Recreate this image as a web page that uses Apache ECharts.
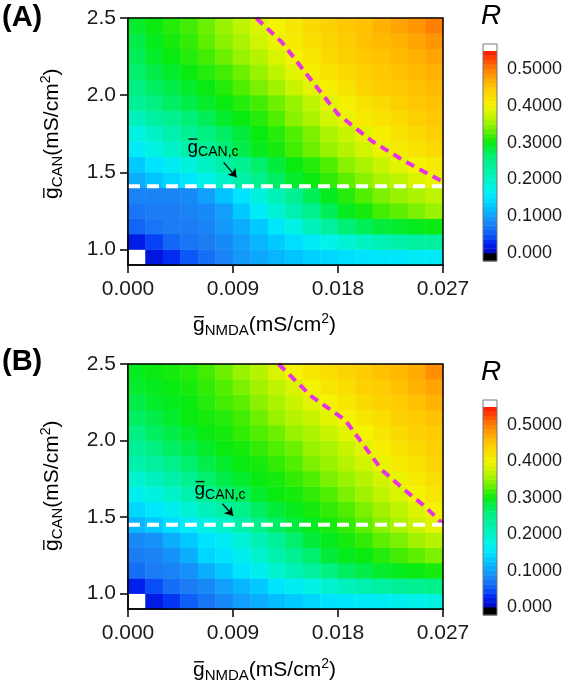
<!DOCTYPE html>
<html>
<head>
<meta charset="utf-8">
<style>
  html, body { margin: 0; padding: 0; background: #fff; }
  #chart { width: 570px; height: 687px; }
</style>
<script src="https://cdn.jsdelivr.net/npm/echarts@6/dist/echarts.min.js"></script>
</head>
<body>
<div id="chart"></div>
<script>
// cell centres: g_NMDA columns (mS/cm2) and g_CAN rows (mS/cm2, bottom row first)
const gNmda = [0.00075, 0.00225, 0.00375, 0.00525, 0.00675, 0.00825, 0.00975, 0.01125, 0.01275,
               0.01425, 0.01575, 0.01725, 0.01875, 0.02025, 0.02175, 0.02325, 0.02475, 0.02625];
const gCan = [0.95, 1.05, 1.15, 1.25, 1.35, 1.45, 1.55, 1.65,
              1.75, 1.85, 1.95, 2.05, 2.15, 2.25, 2.35, 2.45];

// R in each cell, one row per gCan value (bottom first); null = no value
const rA = [
  [null, 0.015, 0.03, 0.05, 0.065, 0.08, 0.095, 0.105, 0.115, 0.125, 0.135, 0.14, 0.145, 0.15, 0.155, 0.155, 0.16, 0.16],
  [0.02, 0.04, 0.06, 0.07, 0.075, 0.085, 0.10, 0.115, 0.13, 0.145, 0.16, 0.175, 0.19, 0.205, 0.215, 0.225, 0.23, 0.235],
  [0.06, 0.07, 0.075, 0.075, 0.08, 0.095, 0.11, 0.13, 0.155, 0.18, 0.21, 0.235, 0.26, 0.275, 0.285, 0.29, 0.295, 0.30],
  [0.07, 0.075, 0.075, 0.08, 0.085, 0.10, 0.13, 0.16, 0.19, 0.22, 0.25, 0.275, 0.295, 0.305, 0.32, 0.33, 0.34, 0.35],
  [0.08, 0.08, 0.08, 0.085, 0.10, 0.125, 0.15, 0.185, 0.215, 0.245, 0.275, 0.295, 0.31, 0.325, 0.34, 0.35, 0.36, 0.37],
  [0.11, 0.125, 0.14, 0.155, 0.175, 0.20, 0.225, 0.25, 0.27, 0.29, 0.30, 0.315, 0.33, 0.345, 0.36, 0.37, 0.385, 0.395],
  [0.13, 0.15, 0.165, 0.185, 0.205, 0.225, 0.245, 0.265, 0.285, 0.30, 0.31, 0.325, 0.345, 0.36, 0.375, 0.39, 0.40, 0.41],
  [0.16, 0.18, 0.20, 0.22, 0.24, 0.26, 0.28, 0.295, 0.305, 0.32, 0.335, 0.35, 0.365, 0.38, 0.395, 0.41, 0.42, 0.43],
  [0.18, 0.20, 0.22, 0.24, 0.255, 0.27, 0.285, 0.30, 0.31, 0.325, 0.34, 0.36, 0.375, 0.39, 0.405, 0.42, 0.43, 0.44],
  [0.21, 0.23, 0.245, 0.26, 0.275, 0.29, 0.30, 0.31, 0.325, 0.345, 0.36, 0.38, 0.395, 0.41, 0.42, 0.43, 0.44, 0.45],
  [0.24, 0.255, 0.27, 0.28, 0.29, 0.30, 0.31, 0.32, 0.335, 0.35, 0.37, 0.39, 0.405, 0.42, 0.43, 0.44, 0.45, 0.455],
  [0.255, 0.27, 0.28, 0.29, 0.30, 0.31, 0.325, 0.34, 0.355, 0.375, 0.39, 0.405, 0.42, 0.435, 0.445, 0.45, 0.455, 0.46],
  [0.265, 0.28, 0.29, 0.30, 0.31, 0.32, 0.335, 0.35, 0.37, 0.39, 0.405, 0.42, 0.43, 0.44, 0.45, 0.455, 0.46, 0.465],
  [0.275, 0.29, 0.30, 0.31, 0.32, 0.335, 0.35, 0.365, 0.385, 0.40, 0.415, 0.43, 0.44, 0.45, 0.455, 0.46, 0.465, 0.475],
  [0.28, 0.295, 0.305, 0.315, 0.33, 0.345, 0.36, 0.38, 0.395, 0.41, 0.425, 0.435, 0.445, 0.455, 0.46, 0.465, 0.475, 0.485],
  [0.29, 0.30, 0.31, 0.32, 0.335, 0.35, 0.37, 0.385, 0.40, 0.415, 0.43, 0.44, 0.45, 0.455, 0.465, 0.475, 0.485, 0.50]
];
const rB = [
  [null, 0.02, 0.035, 0.055, 0.07, 0.085, 0.10, 0.11, 0.12, 0.13, 0.14, 0.15, 0.155, 0.16, 0.165, 0.17, 0.175, 0.18],
  [0.025, 0.045, 0.065, 0.075, 0.085, 0.10, 0.115, 0.13, 0.15, 0.165, 0.18, 0.195, 0.21, 0.22, 0.23, 0.24, 0.245, 0.25],
  [0.065, 0.075, 0.08, 0.09, 0.11, 0.13, 0.15, 0.17, 0.195, 0.215, 0.235, 0.255, 0.27, 0.28, 0.29, 0.295, 0.30, 0.305],
  [0.075, 0.08, 0.09, 0.11, 0.14, 0.15, 0.17, 0.195, 0.22, 0.245, 0.265, 0.285, 0.295, 0.30, 0.31, 0.32, 0.33, 0.34],
  [0.085, 0.09, 0.11, 0.13, 0.15, 0.165, 0.19, 0.215, 0.24, 0.265, 0.285, 0.295, 0.305, 0.315, 0.33, 0.34, 0.355, 0.365],
  [0.115, 0.13, 0.145, 0.16, 0.18, 0.20, 0.225, 0.25, 0.27, 0.285, 0.295, 0.305, 0.315, 0.33, 0.345, 0.36, 0.375, 0.39],
  [0.14, 0.155, 0.17, 0.19, 0.21, 0.23, 0.25, 0.27, 0.285, 0.295, 0.305, 0.315, 0.325, 0.34, 0.355, 0.37, 0.385, 0.40],
  [0.17, 0.185, 0.20, 0.22, 0.24, 0.26, 0.275, 0.29, 0.30, 0.305, 0.315, 0.325, 0.34, 0.355, 0.37, 0.385, 0.40, 0.415],
  [0.195, 0.21, 0.225, 0.245, 0.265, 0.28, 0.29, 0.30, 0.305, 0.315, 0.325, 0.34, 0.35, 0.365, 0.38, 0.395, 0.41, 0.425],
  [0.22, 0.235, 0.25, 0.265, 0.28, 0.29, 0.30, 0.305, 0.315, 0.325, 0.34, 0.35, 0.365, 0.38, 0.395, 0.41, 0.42, 0.435],
  [0.24, 0.255, 0.27, 0.28, 0.29, 0.30, 0.305, 0.315, 0.325, 0.335, 0.35, 0.36, 0.375, 0.39, 0.405, 0.42, 0.43, 0.44],
  [0.255, 0.27, 0.28, 0.29, 0.30, 0.305, 0.315, 0.325, 0.335, 0.35, 0.36, 0.375, 0.39, 0.40, 0.415, 0.43, 0.44, 0.445],
  [0.27, 0.28, 0.29, 0.30, 0.305, 0.31, 0.32, 0.335, 0.35, 0.365, 0.375, 0.39, 0.40, 0.415, 0.425, 0.44, 0.445, 0.455],
  [0.28, 0.29, 0.295, 0.30, 0.31, 0.32, 0.33, 0.345, 0.36, 0.375, 0.39, 0.40, 0.415, 0.43, 0.44, 0.445, 0.455, 0.465],
  [0.29, 0.295, 0.30, 0.305, 0.315, 0.325, 0.34, 0.355, 0.37, 0.385, 0.40, 0.415, 0.425, 0.44, 0.445, 0.455, 0.465, 0.475],
  [0.295, 0.30, 0.305, 0.31, 0.32, 0.335, 0.35, 0.365, 0.385, 0.40, 0.415, 0.425, 0.435, 0.445, 0.455, 0.46, 0.47, 0.49]
];

// magenta dashed boundary [g_NMDA, g_CAN]
const boundA = [[0.0110, 2.5], [0.0132, 2.342], [0.01575, 2.093], [0.0180, 1.877],
                [0.0209, 1.703], [0.0237, 1.573], [0.0266, 1.455], [0.027, 1.44]];
const boundB = [[0.0129, 2.5], [0.01575, 2.287], [0.0186, 2.135], [0.0203, 1.96],
                [0.02175, 1.808], [0.0237, 1.678], [0.02546, 1.569], [0.027, 1.455]];

// critical g_CAN (white dashed line)
const gCanCritA = 1.41;
const gCanCritB = 1.45;

// annotation: label anchor and arrow [from, to]
const noteA = [0.0051, 1.662];
const noteB = [0.0057, 1.678];
const arrowA = [[0.0082, 1.565], [0.0093, 1.468]];
const arrowB = [[0.0081, 1.587], [0.0090, 1.509]];

const yTicks = [1.0, 1.5, 2.0, 2.5];
const rTicks = [0, 0.1, 0.2, 0.3, 0.4, 0.5];

const FONT = "'Liberation Sans', Arial, sans-serif";
const INK = '#1a1a1a';

// colour scale of R
const stops = [
  [0.000, '#0008c0'], [0.025, '#0020f0'], [0.050, '#0a58f8'], [0.075, '#1c7cf4'],
  [0.100, '#10a0fc'], [0.125, '#00c4ff'], [0.150, '#00e4ff'], [0.175, '#00f2ea'],
  [0.200, '#00f2c8'], [0.225, '#00f0a8'], [0.250, '#00f08c'], [0.275, '#00ee58'],
  [0.300, '#08ea10'], [0.325, '#50ee00'], [0.350, '#98f200'], [0.375, '#c8f400'],
  [0.400, '#f4f400'], [0.450, '#ffc800'], [0.500, '#ff8000'], [0.550, '#ff1400']
];
function hexRgb(h) {
  return [parseInt(h.slice(1, 3), 16), parseInt(h.slice(3, 5), 16), parseInt(h.slice(5, 7), 16)];
}
function colorAt(v) {
  if (v <= stops[0][0]) return stops[0][1];
  for (let i = 1; i < stops.length; i++) {
    if (v <= stops[i][0]) {
      const t = (v - stops[i - 1][0]) / (stops[i][0] - stops[i - 1][0]);
      const a = hexRgb(stops[i - 1][1]), b = hexRgb(stops[i][1]);
      const c = a.map((x, k) => Math.round(x + (b[k] - x) * t));
      return 'rgb(' + c.join(',') + ')';
    }
  }
  return stops[stops.length - 1][1];
}

// colour bar bands: black below 0, 44 levels up to 0.55, white cap
const bands = [[-0.022, 0]];
for (let i = 0; i < 44; i++) bands.push([i * 0.0125, (i + 1) * 0.0125]);
bands.push([0.55, 0.568]);
const scaleColors = [];
for (let i = 0; i <= 110; i++) scaleColors.push(colorAt(i * 0.005));

function cells(rows) {
  const out = [];
  rows.forEach((row, j) => row.forEach((v, i) => { if (v !== null) out.push([i, j, v]); }));
  return out;
}

function renderBand(params, api) {
  const lo = api.value(0), hi = api.value(1);
  const p0 = api.coord([0, hi]);
  const p1 = api.coord([1, lo]);
  let fill = colorAt((lo + hi) / 2);
  if (hi <= 0) fill = '#000';
  if (lo >= 0.55) fill = '#fff';
  return {
    type: 'rect',
    shape: { x: p0[0], y: p0[1], width: p1[0] - p0[0], height: p1[1] - p0[1] + 0.4 },
    style: { fill: fill }
  };
}

const tickLabel = { fontFamily: FONT, fontSize: 21, color: INK };

function plotAxes(gridIndex) {
  const x = {
    gridIndex, type: 'value', min: 0, max: 0.027, interval: 0.009,
    axisLine: { show: true, onZero: false, lineStyle: { color: '#000', width: 1.5 } },
    axisTick: { show: true, length: 8, lineStyle: { color: '#000', width: 1.5 } },
    axisLabel: Object.assign({ margin: 14, formatter: v => v.toFixed(3) }, tickLabel),
    splitLine: { show: false }
  };
  const y = {
    gridIndex, type: 'value', min: 0.9, max: 2.5,
    axisLine: { show: true, onZero: false, lineStyle: { color: '#000', width: 1.5 } },
    axisTick: { show: true, length: 8, customValues: yTicks, lineStyle: { color: '#000', width: 1.5 } },
    axisLabel: Object.assign({ margin: 12, customValues: yTicks, formatter: v => v.toFixed(1) }, tickLabel),
    splitLine: { show: false }
  };
  const xc = { gridIndex, type: 'category', data: gNmda.map(String), show: false };
  const yc = { gridIndex, type: 'category', data: gCan.map(String), show: false };
  return { x: [x, xc], y: [y, yc] };
}

function barAxes(gridIndex) {
  return {
    x: { gridIndex, type: 'value', min: 0, max: 1, show: false },
    y: {
      gridIndex, type: 'value', min: -0.022, max: 0.568, position: 'right',
      axisLine: { show: false },
      axisTick: { show: true, length: 4, customValues: rTicks, lineStyle: { color: '#666', width: 1 } },
      axisLabel: {
        margin: 10, customValues: rTicks, fontFamily: FONT, fontSize: 18, color: INK,
        formatter: v => (v === 0 ? '0.000' : v.toFixed(4))
      },
      splitLine: { show: false }
    }
  };
}

const pa = plotAxes(0), pb = plotAxes(1), ca = barAxes(2), cb = barAxes(3);

const frame = { show: true, z: 10, backgroundColor: 'transparent', borderColor: '#000', borderWidth: 1.5 };
const barFrame = { show: true, z: 10, backgroundColor: 'transparent', borderColor: '#777', borderWidth: 1 };

function boundSeries(xi, data) {
  return {
    type: 'line', xAxisIndex: xi, yAxisIndex: xi, data, symbol: 'none', silent: true, z: 5,
    lineStyle: { color: '#e632e6', width: 4, type: [9, 6] }
  };
}
function critSeries(xi, g, arrow) {
  return {
    type: 'line', xAxisIndex: xi, yAxisIndex: xi, data: [[0, g], [0.027, g]],
    symbol: 'none', silent: true, z: 5,
    lineStyle: { color: '#fff', width: 4, type: [12, 7] },
    markLine: {
      silent: true, symbol: ['none', 'arrow'], symbolSize: 8, animation: false,
      lineStyle: { color: '#000', width: 1.3, type: 'solid' },
      itemStyle: { color: '#000' },
      label: { show: false },
      emphasis: { disabled: true },
      data: [[{ coord: arrow[0] }, { coord: arrow[1] }]]
    }
  };
}

const chart = echarts.init(document.getElementById('chart'));

const option = {
  animation: false,
  backgroundColor: '#fff',
  grid: [
    Object.assign({ left: 128, top: 18, width: 315, height: 247 }, frame),
    Object.assign({ left: 128, top: 364, width: 315, height: 245 }, frame),
    Object.assign({ left: 483, top: 44, width: 14, height: 217 }, barFrame),
    Object.assign({ left: 483, top: 400, width: 14, height: 215 }, barFrame)
  ],
  xAxis: [pa.x[0], pa.x[1], pb.x[0], pb.x[1], ca.x, cb.x],
  yAxis: [pa.y[0], pa.y[1], pb.y[0], pb.y[1], ca.y, cb.y],
  visualMap: {
    type: 'continuous', show: false, seriesIndex: [0, 1], dimension: 2,
    min: 0, max: 0.55, inRange: { color: scaleColors }
  },
  series: [
    { type: 'heatmap', xAxisIndex: 1, yAxisIndex: 1, data: cells(rA), silent: true, emphasis: { disabled: true } },
    { type: 'heatmap', xAxisIndex: 3, yAxisIndex: 3, data: cells(rB), silent: true, emphasis: { disabled: true } },
    boundSeries(0, boundA),
    critSeries(0, gCanCritA, arrowA),
    boundSeries(2, boundB),
    critSeries(2, gCanCritB, arrowB),
    { type: 'custom', xAxisIndex: 4, yAxisIndex: 4, data: bands, renderItem: renderBand, silent: true },
    { type: 'custom', xAxisIndex: 5, yAxisIndex: 5, data: bands, renderItem: renderBand, silent: true }
  ]
};
chart.setOption(option);

// text with an overlined g and a subscript
const rich = {
  m: { fontFamily: FONT, fontSize: 21, color: INK, lineHeight: 26 },
  sub: { fontFamily: FONT, fontSize: 15, color: INK, lineHeight: 14, verticalAlign: 'bottom' },
  sup: { fontFamily: FONT, fontSize: 14, color: INK, lineHeight: 16, verticalAlign: 'top' },
  n: { fontFamily: FONT, fontSize: 19, color: INK, lineHeight: 24 },
  nsub: { fontFamily: FONT, fontSize: 14, color: INK, lineHeight: 13, verticalAlign: 'bottom' }
};
function gLabel(x, y, text, rotation, barW, barY) {
  return {
    type: 'group', x, y, rotation: rotation || 0, silent: true,
    children: [
      { type: 'text', z: 100, x: 0, y: 0, style: { text, rich, align: 'left', verticalAlign: 'middle' } },
      { type: 'rect', z: 100, shape: { x: 1, y: barY, width: barW, height: 1.5 }, style: { fill: INK } }
    ]
  };
}
function plain(x, y, text, font, align) {
  return {
    type: 'text', x, y, z: 100, silent: true,
    style: { text, font, fill: '#000', align: align || 'left', verticalAlign: 'middle' }
  };
}

const pNoteA = chart.convertToPixel({ xAxisIndex: 0, yAxisIndex: 0 }, noteA);
const pNoteB = chart.convertToPixel({ xAxisIndex: 2, yAxisIndex: 2 }, noteB);

const xTitle = '{m|g}{sub|NMDA}{m|(mS/cm}{sup|2}{m|)}';
const yTitle = '{m|g}{sub|CAN}{m|(mS/cm}{sup|2}{m|)}';
const noteTitle = '{n|g}{nsub|CAN,c}';

chart.setOption({
  graphic: [
    plain(2, 18, '(A)', 'bold 29px ' + FONT),
    plain(2, 362, '(B)', 'bold 29px ' + FONT),
    plain(491, 16, 'R', 'italic 28px ' + FONT, 'center'),
    plain(491, 372, 'R', 'italic 28px ' + FONT, 'center'),
    gLabel(193, 325, xTitle, 0, 10, -9),
    gLabel(193, 670, xTitle, 0, 10, -9),
    gLabel(52, 199, yTitle, Math.PI / 2, 10, -9),
    gLabel(52, 551, yTitle, Math.PI / 2, 10, -9),
    gLabel(pNoteA[0], pNoteA[1], noteTitle, 0, 9, -9),
    gLabel(pNoteB[0], pNoteB[1], noteTitle, 0, 9, -9)
  ]
});
</script>
</body>
</html>
